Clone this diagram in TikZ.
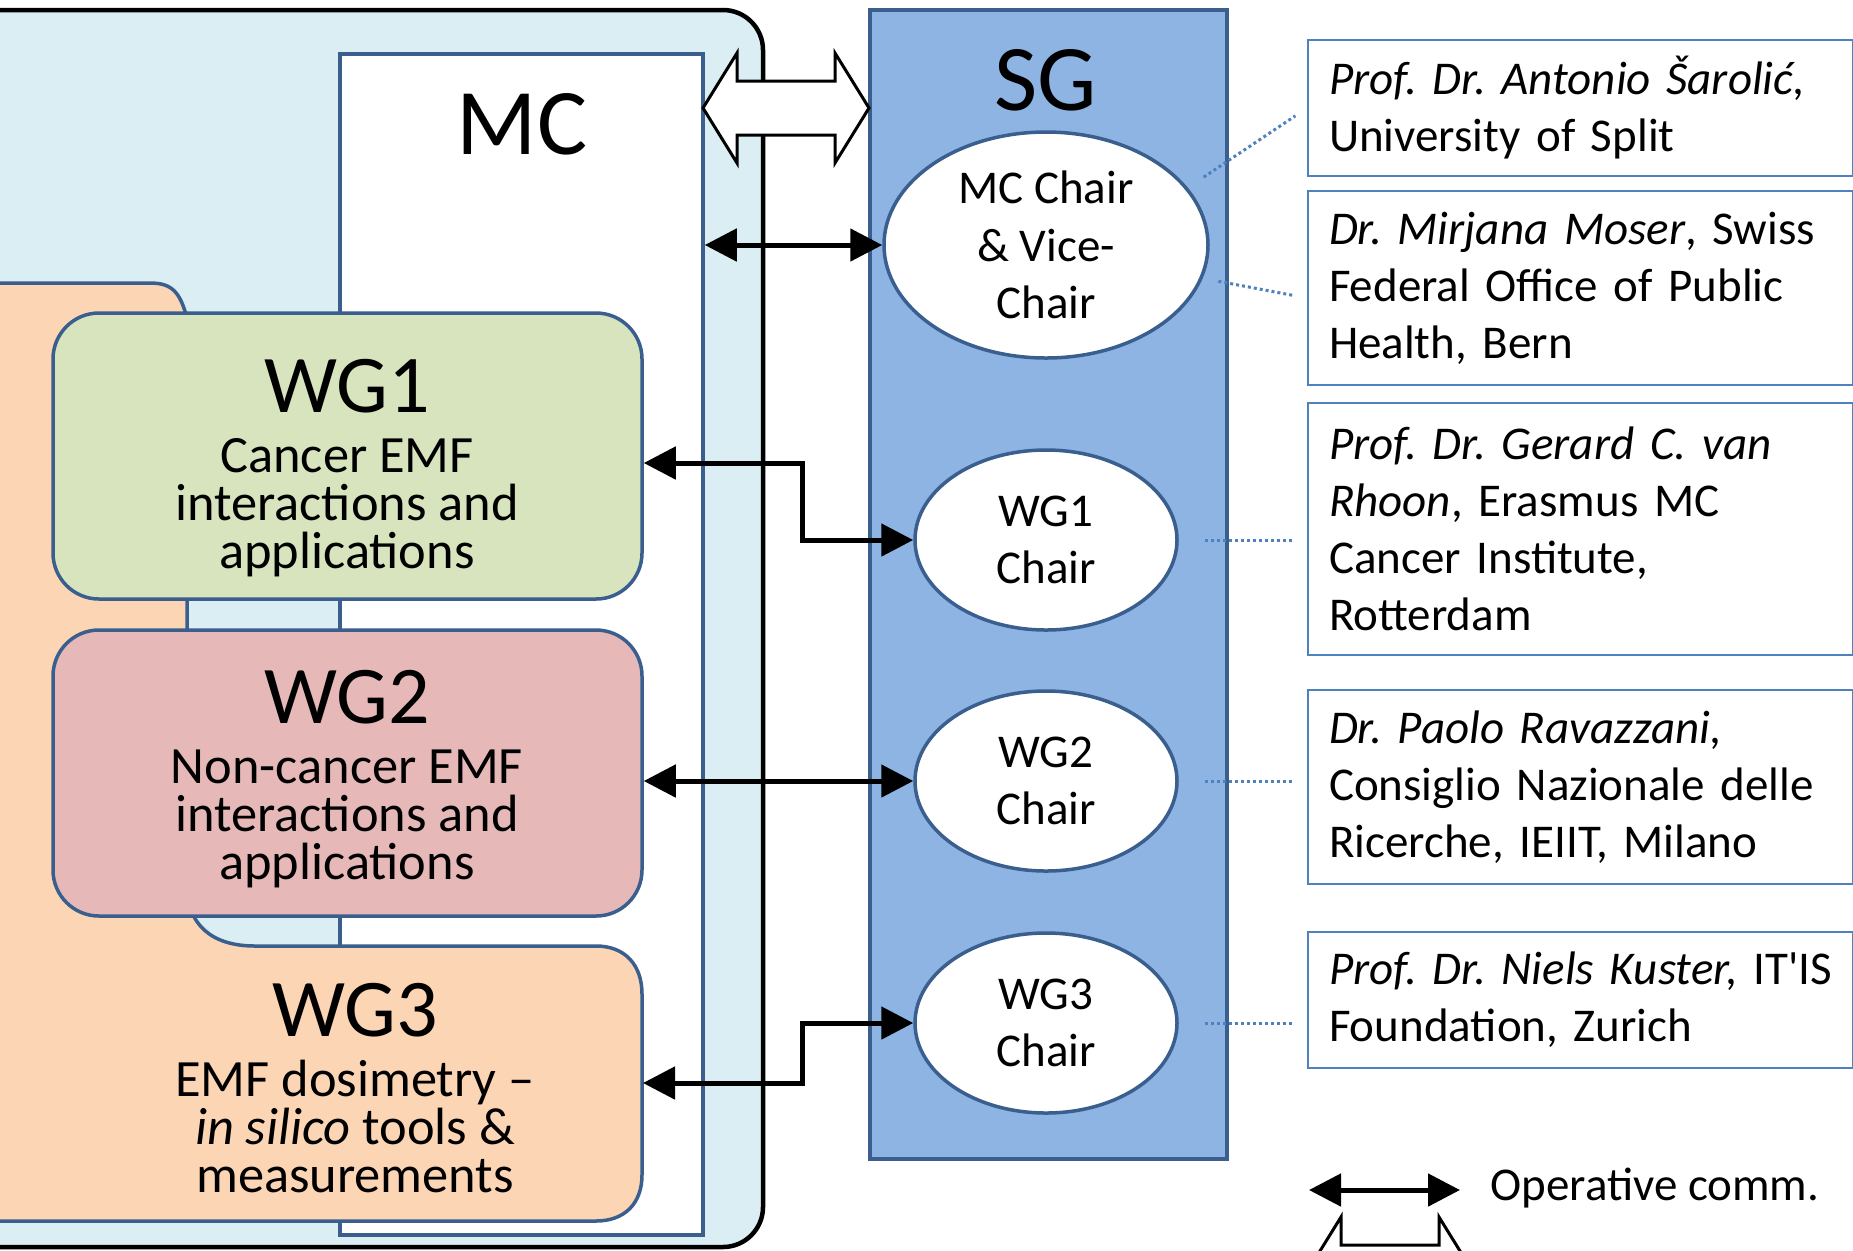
\documentclass[tikz,border=0pt]{standalone}
\usepackage{fontspec}
\newfontfamily\carlito{Carlito}
\usetikzlibrary{arrows.meta,shapes.geometric}

\definecolor{paleblue}{HTML}{DBEEF4}
\definecolor{sgblue}{HTML}{8EB4E3}
\definecolor{edgeblue}{HTML}{3A5F8E}
\definecolor{boxblue}{HTML}{4F81BD}
\definecolor{wggreen}{HTML}{D7E4BD}
\definecolor{wgpink}{HTML}{E6B9B8}
\definecolor{wgpeach}{HTML}{FCD5B5}
\newcommand\tightlines{\lineskiplimit=-20pt\relax}
\frenchspacing

\begin{document}
\begin{tikzpicture}[x=0.5pt,y=-0.5pt,font=\carlito,
  edge/.style={draw=edgeblue,line width=1.75pt},
  wgbox/.style={edge,rounded corners=23pt,minimum width=294.5pt,minimum height=143pt},
  wgtitle/.style={font=\carlito\fontsize{41}{49}\selectfont},
  wgtext/.style={align=center,font=\carlito\fontsize{26.2}{24}\selectfont\tightlines},
  biglabel/.style={font=\carlito\fontsize{47}{56}\selectfont},
  chair/.style={ellipse,edge,fill=white,inner sep=0pt,align=center,
    font=\carlito\fontsize{23.5}{28.75}\selectfont},
  info/.style={draw=boxblue,line width=1pt,anchor=west,text width=251.5pt,
    inner xsep=10.5pt,align=left,font=\carlito\fontsize{23.5}{28.5}\selectfont},
  link/.style={line width=2.5pt,{Triangle[length=16pt,width=16pt]}-{Triangle[length=16pt,width=16pt]}},
  tie/.style={draw=boxblue,line width=1.5pt,dash pattern=on 1.5pt off 1.5pt},
  fat arrow/.pic={
    \draw[line width=1.5pt,line join=miter,fill=white]
      (-83,0) -- (-49,-55) -- (-49,-27) -- (49,-27) -- (49,-55) -- (83,0)
      -- (49,55) -- (49,27) -- (-49,27) -- (-49,55) -- cycle;
  }]
\useasboundingbox (0,0) rectangle (1853,1250);
\clip (0,0) rectangle (1853,1250);

% MC side
\draw[line width=2.25pt,fill=paleblue,rounded corners=20pt] (-80,10) rectangle (763,1247);
\node[edge,fill=white,minimum width=181.5pt,minimum height=590.5pt] (mc) at (521.5,644.5) {};
\node[biglabel] (mclabel) at (522,124) {MC};

\draw[edge,fill=wgpeach] (-10,283) -- (150,283) .. controls (172,283) and (180,292) .. (187,318)
  -- (187,885) .. controls (187,925) and (212,946) .. (255,946)
  -- (596,946) .. controls (625,946) and (642,965) .. (642,994)
  -- (642,1175) .. controls (642,1203) and (625,1221) .. (596,1221)
  -- (-10,1221) -- cycle;
\node[wgbox,fill=wggreen] (wg1) at (347.5,456) {};
\node[wgbox,fill=wgpink] (wg2) at (347.5,773) {};

\node[wgtitle] (wg1title) at (347,386) {WG1};
\node[wgtext] (wg1text) at (347,508) {Cancer EMF\\interactions and\\applications};
\node[wgtitle] (wg2title) at (347,697) {WG2};
\node[wgtext] (wg2text) at (347,819) {Non-cancer EMF\\interactions and\\applications};
\node[wgtitle] (wg3title) at (355,1010) {WG3};
\node[wgtext] (wg3text) at (355,1126) {EMF dosimetry –\\\textit{in silico} tools \&\\measurements};
\coordinate (wg3port) at (643,1083);

% SG side
\node[edge,line width=2pt,fill=sgblue,minimum width=178.5pt,minimum height=574.5pt] (sg) at (1048.5,584.5) {};
\node[biglabel] (sglabel) at (1046,80) {SG};
\node[chair,minimum width=162pt,minimum height=113pt] (mcchair) at (1046,245) {MC Chair\\\& Vice-\\Chair};
\node[chair,minimum width=131pt,minimum height=90pt] (wg1chair) at (1046,540) {WG1\\Chair};
\node[chair,minimum width=131pt,minimum height=90pt] (wg2chair) at (1046,781) {WG2\\Chair};
\node[chair,minimum width=131pt,minimum height=90pt] (wg3chair) at (1046,1023) {WG3\\Chair};

\pic at (786,108) {fat arrow};
\draw[link] (mc.east |- mcchair.west) -- (mcchair.west);
\draw[link] ([yshift=-3.5pt]wg1.east) -- ++(159,0) |- (wg1chair.west);
\draw[link] (wg2.east |- wg2chair.west) -- (wg2chair.west);
\draw[link] (wg3port) -- ++(159,0) |- (wg3chair.west);

% people
\node[info,minimum height=68pt] (prof1) at (1307,108) {\textit{Prof. Dr. Antonio Šarolić,}\\University of Split};
\node[info,minimum height=97pt] (prof2) at (1307,288) {\textit{Dr. Mirjana Moser}, Swiss\\Federal Office of Public\\Health, Bern};
\node[info,minimum height=126pt] (prof3) at (1307,529) {\textit{Prof. Dr. Gerard C. van}\\\textit{Rhoon}, Erasmus MC\\Cancer Institute,\\Rotterdam};
\node[info,minimum height=97pt] (prof4) at (1307,787) {\textit{Dr. Paolo Ravazzani,}\\Consiglio Nazionale delle\\Ricerche, IEIIT, Milano};
\node[info,minimum height=68pt] (prof5) at (1307,1000) {\mbox{\textit{Prof. Dr. Niels Kuster,} IT'IS}\\Foundation, Zurich};

\draw[tie,shorten <=9.5pt,shorten >=7pt] (mcchair.22) -- (prof1.west);
\draw[tie,shorten <=8pt,shorten >=7pt] (mcchair.-12) -- ([yshift=-5pt]prof2.west);
\draw[tie,shorten <=13pt,shorten >=7.5pt] (wg1chair.east) -- (wg1chair.east -| prof3.west);
\draw[tie,shorten <=13pt,shorten >=7.5pt] (wg2chair.east) -- (wg2chair.east -| prof4.west);
\draw[tie,shorten <=13pt,shorten >=7.5pt] (wg3chair.east) -- (wg3chair.east -| prof5.west);

% legend
\coordinate (legleft) at (1309,1190);
\coordinate (legright) at (1460,1190);
\draw[link] (legleft) -- (legright);
\node[anchor=west,inner sep=0pt,font=\carlito\fontsize{23.5}{28.5}\selectfont] (operative) at (1490,1188) {Operative comm.};
\pic at (1390,1272) {fat arrow};
\end{tikzpicture}
\end{document}
